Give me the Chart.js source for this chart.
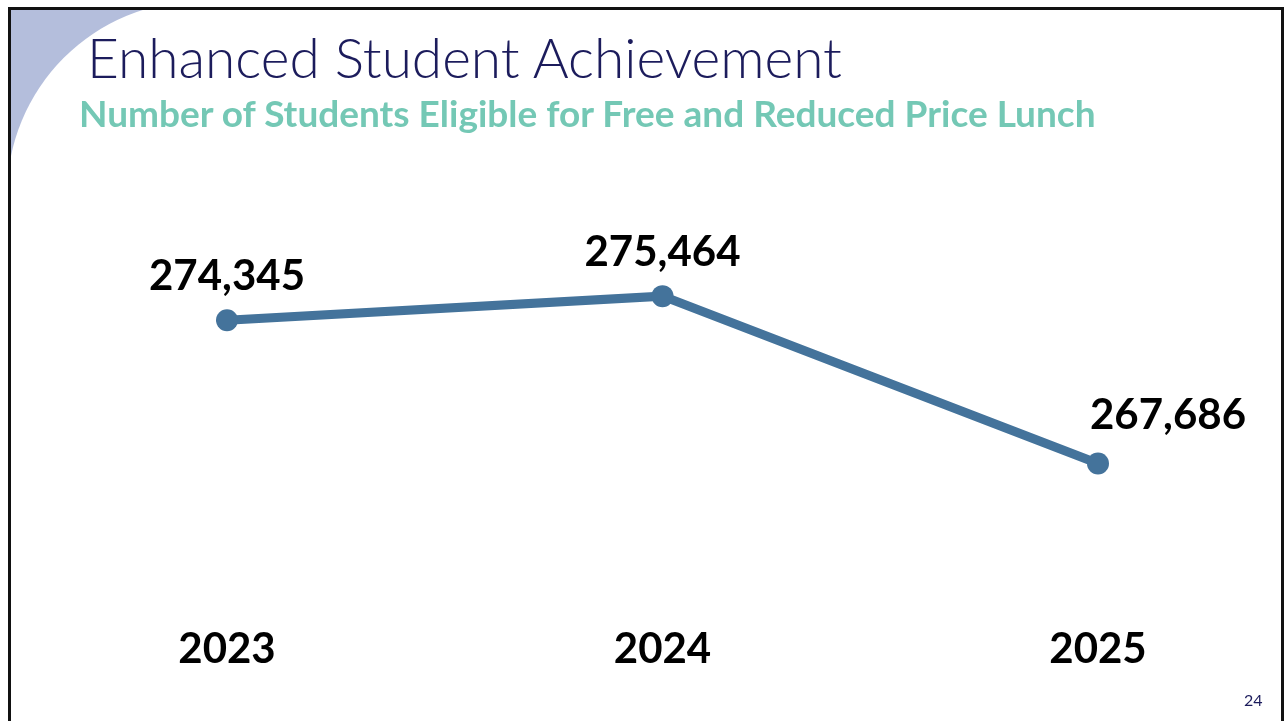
<!DOCTYPE html>
<html>
<head>
<meta charset="utf-8">
<title>Enhanced Student Achievement</title>
<script src="https://cdn.jsdelivr.net/npm/chart.js@4.4.1/dist/chart.umd.min.js"></script>
<style>
  body { margin: 0; background: #fff; }
  #slide { position: relative; width: 1288px; height: 721px; overflow: hidden; }
  #mycanvas { position: absolute; left: 0; top: 0; }
  .txt { position: absolute; white-space: nowrap; line-height: 1; font-family: Lato, "Open Sans", sans-serif; }
  #title { left: 87px; top: 30px; font-size: 55px; font-weight: 300; color: #1c1c5c; }
  #subtitle { left: 79px; top: 94px; font-size: 37px; font-weight: 700; color: #74c8b5; }
  #pagenum { left: 1244px; top: 692px; font-size: 16px; color: #1c1c5c; }
</style>
</head>
<body>
<div id="slide">
  <canvas id="mycanvas" width="1288" height="721"></canvas>
  <div class="txt" id="title">Enhanced Student Achievement</div>
  <div class="txt" id="subtitle">Number of Students Eligible for Free and Reduced Price Lunch</div>
  <div class="txt" id="pagenum">24</div>
</div>
<script>
var years = ["2023", "2024", "2025"];
var students = [274345, 275464, 267686];
var yMin = 260000;
var yMax = 280000;

// slide background: corner swoosh + frame
var slideBack = {
	id: 'slideBack',
	beforeDraw: function(chart) {
		var c = chart.ctx;
		c.save();
		c.fillStyle = "#ffffff";
		c.fillRect(0, 0, chart.width, chart.height);
		c.beginPath();
		c.rect(10, 9, 140, 186);
		c.clip();
		c.fillStyle = "#b4bedc";
		c.fillRect(0, 0, 200, 200);
		c.beginPath();
		c.arc(201, 195, 194, 0, Math.PI * 2);
		c.fillStyle = "#ffffff";
		c.fill();
		c.restore();

		c.save();
		c.strokeStyle = "#111111";
		c.lineWidth = 3;
		c.strokeRect(9.5, 8.5, 1273, 740);
		c.restore();
	}
};

// value labels above the points
var valueLabels = {
	id: 'valueLabels',
	afterDatasetsDraw: function(chart, args, opts) {
		var c = chart.ctx;
		var meta = chart.getDatasetMeta(0);
		c.save();
		c.font = "bold 42px Lato, 'Open Sans', sans-serif";
		c.fillStyle = "#000000";
		c.textAlign = "center";
		c.textBaseline = "alphabetic";
		for (var i = 0; i < meta.data.length; i++) {
			var pt = meta.data[i];
			var txt = chart.data.datasets[0].data[i].toLocaleString('en-US');
			c.fillText(txt, pt.x + opts.dx[i], pt.y + opts.dy[i]);
		}
		c.restore();
	}
};

var ctx = document.getElementById("mycanvas");

var chartdata = {
	labels: years,
	datasets: [
		{
			label: "students",
			fill: false,
			tension: 0,
			borderColor: "#44739b",
			backgroundColor: "#44739b",
			borderWidth: 9,
			pointRadius: 11,
			pointBorderWidth: 0,
			pointBackgroundColor: "#44739b",
			data: students
		}
	]
};

var LineGraph = new Chart(ctx, {
	type: 'line',
	data: chartdata,
	plugins: [slideBack, valueLabels],
	options: {
		responsive: false,
		animation: false,
		layout: {
			padding: { left: 227, right: 190, top: 198.5, bottom: 51 }
		},
		plugins: {
			legend: { display: false },
			tooltip: { enabled: false },
			valueLabels: {
				dx: [0, 0, 70],
				dy: [-30, -30, -35]
			}
		},
		scales: {
			x: {
				offset: false,
				grid: { display: false, drawTicks: false },
				border: { display: false },
				ticks: {
					padding: -0.5,
					color: "#000000",
					font: { family: "Lato, 'Open Sans', sans-serif", size: 42, weight: "bold", lineHeight: 1 }
				}
			},
			y: {
				display: false,
				min: yMin,
				max: yMax
			}
		}
	}
});
</script>
</body>
</html>
